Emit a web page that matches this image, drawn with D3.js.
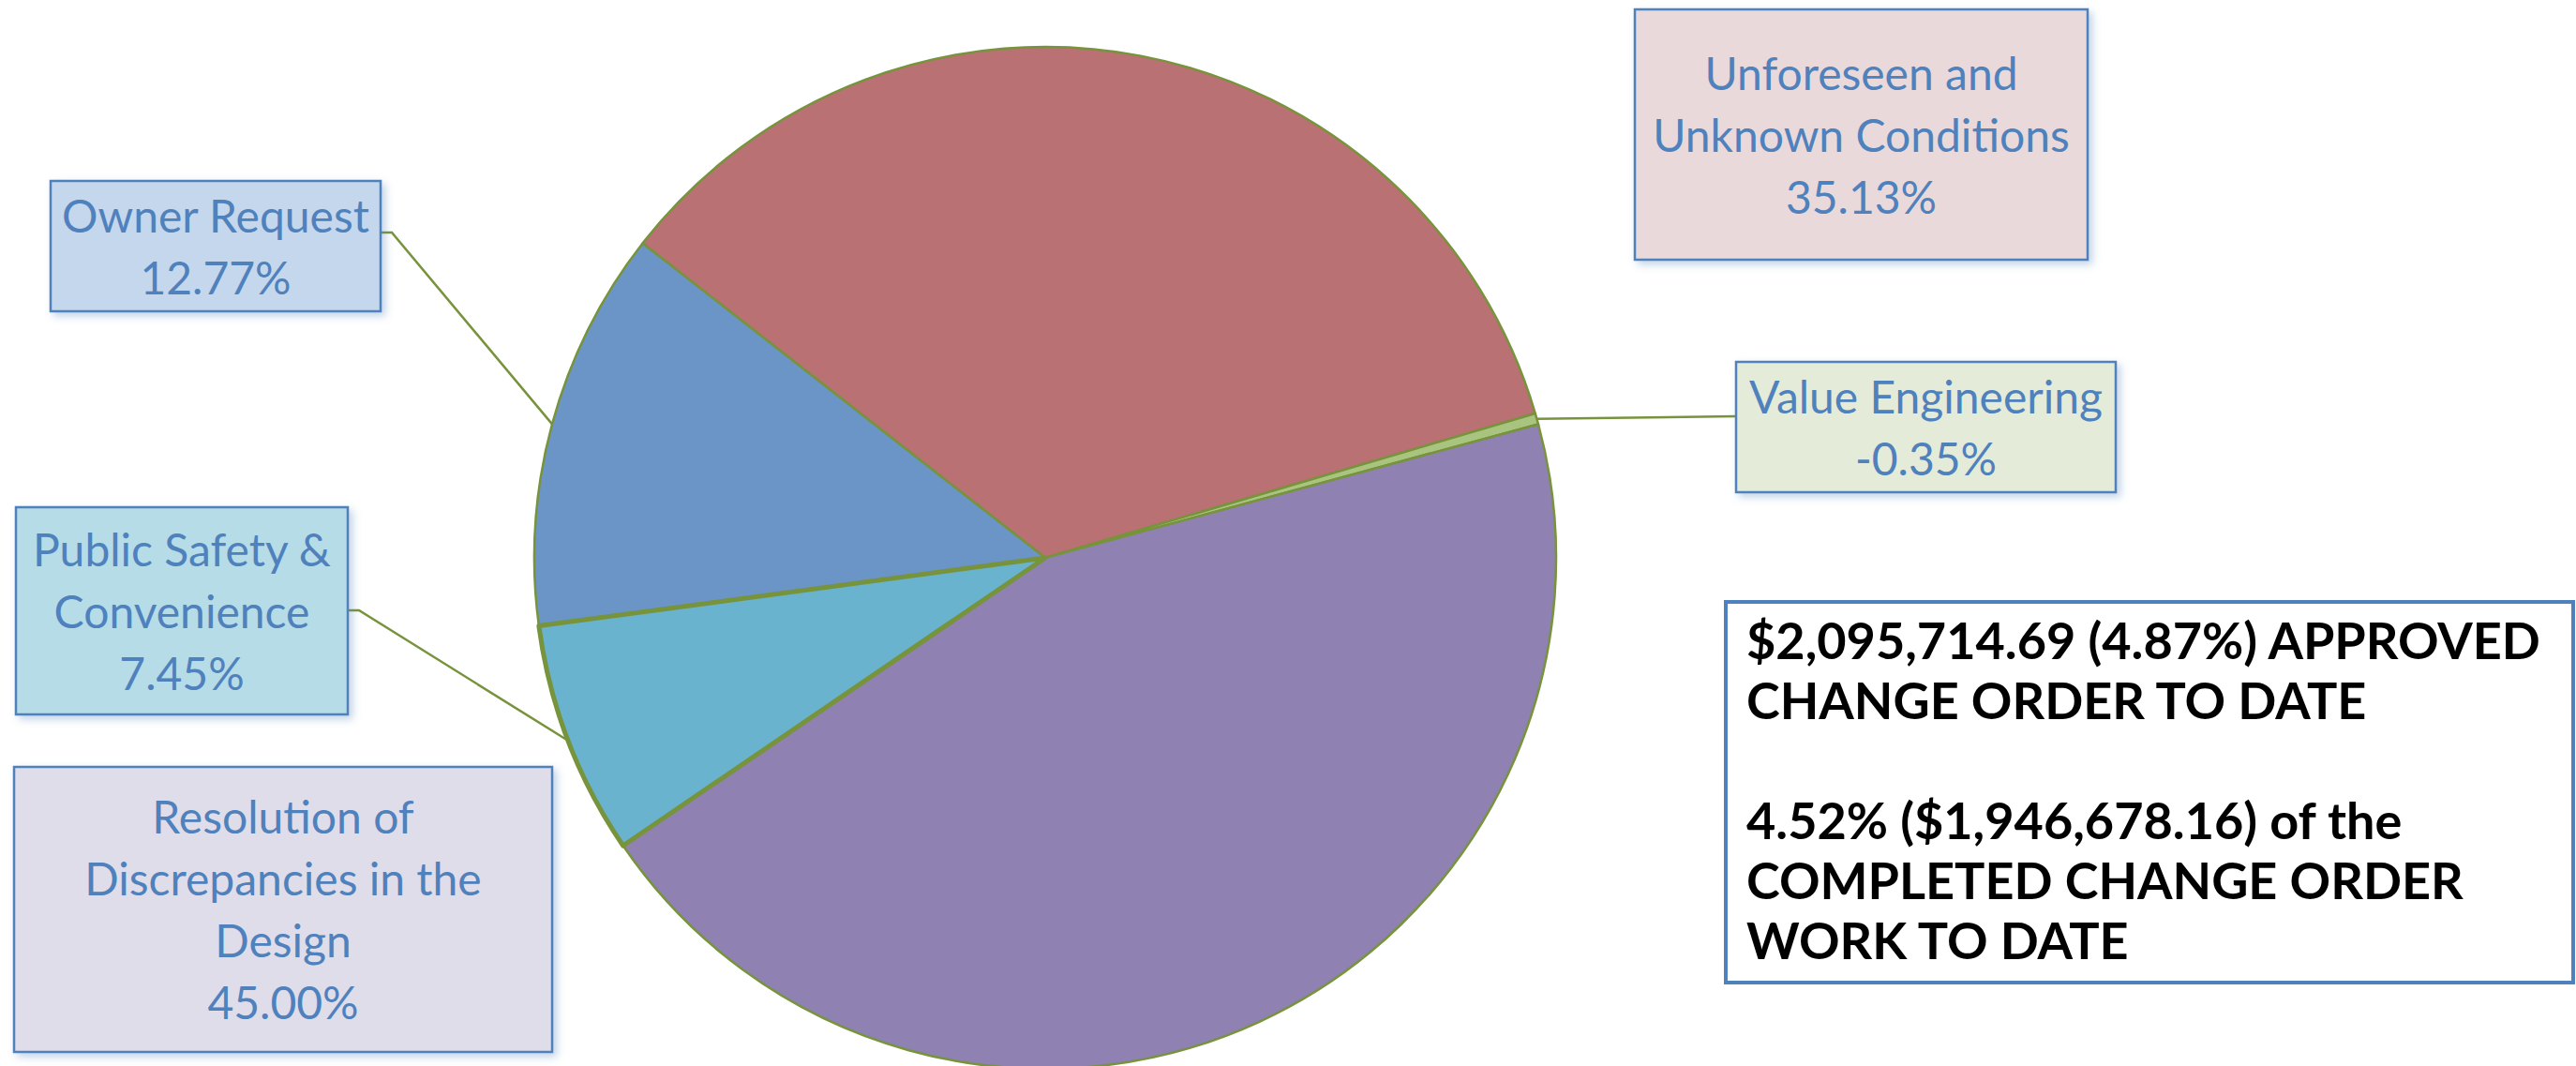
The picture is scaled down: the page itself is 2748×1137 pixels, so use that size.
<!DOCTYPE html>
<meta charset="utf-8">
<style>
body { margin: 0; background: #fff; }
svg { display: block; }
.lbl { font-family: Lato, "Open Sans", sans-serif; font-size: 48px; fill: #4F81BD; }
.note { font-family: Lato, sans-serif; font-weight: 700; font-size: 54px; fill: #000; }
</style>
<svg width="2748" height="1137"></svg>
<script src="https://cdn.jsdelivr.net/npm/d3@7"></script>
<script>

// change order breakdown, percent of approved change orders
var categories = ["Unforeseen and Unknown Conditions", "Value Engineering",
  "Resolution of Discrepancies in the Design", "Public Safety & Convenience", "Owner Request"];
var percents = [35.13, -0.35, 45.00, 7.45, 12.77];
var labelLines = [
  ["Unforeseen and", "Unknown Conditions"],
  ["Value Engineering"],
  ["Resolution of", "Discrepancies in the", "Design"],
  ["Public Safety &", "Convenience"],
  ["Owner Request"]
];
var noteLines = ["$2,095,714.69 (4.87%) APPROVED", "CHANGE ORDER TO DATE", "",
  "4.52% ($1,946,678.16) of the", "COMPLETED CHANGE ORDER", "WORK TO DATE"];

// styling / layout
var sliceColors = ["#B97173", "#A9C47F", "#8F81B2", "#6AB3CE", "#6B95C7"];
var boxColors = ["#EAD9DA", "#E4EBD9", "#E0DDEA", "#B6DCE7", "#C5D7EC"];
var boxes = [
  {x: 1744, y: 10, w: 483, h: 267, anchor: null},
  {x: 1852, y: 386, w: 405, h: 139, anchor: 444},
  {x: 15, y: 818, w: 574, h: 304, anchor: null},
  {x: 17, y: 541, w: 354, h: 221, anchor: 651},
  {x: 54, y: 193, w: 352, h: 139, anchor: 248}
];

var svg = d3.select("svg"),
    cx = 1115, cy = 595, radius = 545,
    lineH = 66,
    fmt = d3.formatLocale({decimal: ".", thousands: ",", grouping: [3], currency: ["$", ""], minus: "-"}).format(".2f");

var defs = svg.append("defs");
var shadow = defs.append("filter").attr("id", "shadow")
    .attr("x", "-10%").attr("y", "-10%").attr("width", "130%").attr("height", "130%");
shadow.append("feDropShadow")
    .attr("dx", 4).attr("dy", 4).attr("stdDeviation", 4)
    .attr("flood-color", "#4F81BD").attr("flood-opacity", 0.35);

var pie = d3.pie()
    .sort(null)
    .value(function(d) { return Math.abs(d); })
    .startAngle(-52 * Math.PI / 180)
    .endAngle(-52 * Math.PI / 180 + 2 * Math.PI);

var arc = d3.arc().innerRadius(0).outerRadius(radius);
var edge = d3.arc().innerRadius(radius).outerRadius(radius);

var arcs = pie(percents);

var g = svg.append("g").attr("transform", "translate(" + cx + "," + cy + ")");

g.selectAll("path.slice")
  .data(arcs)
  .enter().append("path")
    .attr("class", "slice")
    .attr("d", arc)
    .attr("fill", function(d, i) { return sliceColors[i]; })
    .attr("stroke", "#77933C")
    .attr("stroke-linejoin", "round")
    .attr("stroke-width", function(d, i) { return i === 3 ? 5 : 2.5; });

// bring the thick-outlined slice on top
g.selectAll("path.slice").filter(function(d, i) { return i === 3; }).raise();

// leader lines
arcs.forEach(function(d, i) {
  var b = boxes[i];
  if (b.anchor === null) return;
  var p = edge.centroid(d);
  var px = cx + p[0], py = cy + p[1];
  var pts;
  if (b.x > cx) {
    pts = [[px, py], [b.x, b.anchor]];
  } else {
    var bx = b.x + b.w;
    pts = [[bx, b.anchor], [bx + 12, b.anchor], [px, py]];
  }
  svg.append("path")
      .attr("d", d3.line()(pts))
      .attr("fill", "none")
      .attr("stroke", "#77933C")
      .attr("stroke-width", 2.5);
});

// label boxes
var label = svg.selectAll("g.label")
  .data(arcs)
  .enter().append("g")
    .attr("class", "label");

label.append("rect")
    .attr("x", function(d, i) { return boxes[i].x; })
    .attr("y", function(d, i) { return boxes[i].y; })
    .attr("width", function(d, i) { return boxes[i].w; })
    .attr("height", function(d, i) { return boxes[i].h; })
    .attr("fill", function(d, i) { return boxColors[i]; })
    .attr("stroke", "#4F81BD")
    .attr("stroke-width", 2.5)
    .attr("filter", "url(#shadow)");

label.append("text")
    .attr("class", "lbl")
    .attr("text-anchor", "middle")
    .each(function(d, i) {
      var b = boxes[i],
          lines = labelLines[i].concat([fmt(percents[i]) + "%"]),
          y0 = b.y + b.h / 2 - (lines.length - 1) * lineH / 2 + 18;
      d3.select(this).selectAll("tspan")
        .data(lines)
        .enter().append("tspan")
          .attr("x", b.x + b.w / 2)
          .attr("y", function(t, j) { return y0 + j * lineH; })
          .text(function(t) { return t; });
    });

// summary note
svg.append("rect")
    .attr("x", 1841).attr("y", 642)
    .attr("width", 904).attr("height", 406)
    .attr("fill", "#fff")
    .attr("stroke", "#4F81BD")
    .attr("stroke-width", 4);

svg.append("text")
    .attr("class", "note")
  .selectAll("tspan")
  .data(noteLines)
  .enter().append("tspan")
    .attr("x", 1863)
    .attr("y", function(d, i) { return 703 + i * 64; })
    .text(function(d) { return d; });

</script>
